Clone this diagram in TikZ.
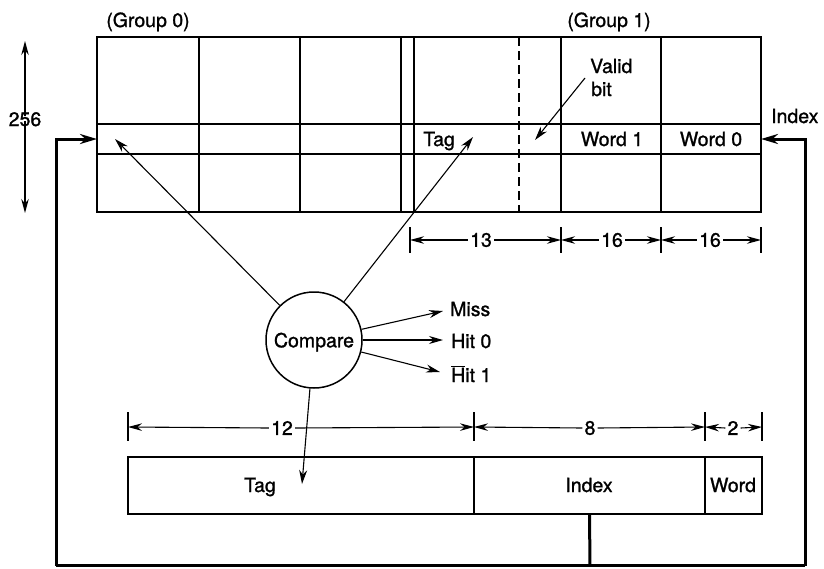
\documentclass[tikz,border=0pt]{standalone}
\usepackage{fontspec}
\setmainfont{TeX Gyre Heros}[FakeBold=1.2]
\newfontfamily\medfont{TeX Gyre Heros}[FakeBold=1.2]
\usetikzlibrary{arrows.meta}
\begin{document}
\begin{tikzpicture}[x=1pt,y=-1pt,
  gridline/.style={line width=1.7pt},
  dashline/.style={line width=1.1pt,dash pattern=on 9pt off 5pt},
  thinarrow/.style={line width=1.1pt,-{Stealth[length=14pt,width=8pt]}},
  dimarrow/.style={line width=1.1pt,-{Stealth[length=14pt,width=7.5pt]}},
  dimtick/.style={line width=1.1pt},
  loopline/.style={line width=3pt,line join=miter},
  looparrow/.style={loopline,-{Stealth[length=17pt,width=10pt]}},
  lbl/.style={font=\medfont\fontsize{19.5}{22}\selectfont,inner sep=0pt},
  dimlbl/.style={font=\medfont\fontsize{19.5}{22}\selectfont,inner sep=2pt},
  field/.style={draw,line width=1.7pt,minimum height=57pt,inner sep=0pt},
]
\useasboundingbox (0,0) rectangle (824,568);

% ---- top array (two groups) ----
\draw[gridline] (97,37) rectangle (761,212);
\draw[gridline] (97,124) -- (761,124);
\draw[gridline] (97,154) -- (761,154);
\foreach \xx in {199,300,401,414,561,661}
  \draw[gridline] (\xx,37) -- (\xx,212);
\draw[dashline] (519,37) -- (519,212);

\coordinate (rowL) at (97,139);
\coordinate (rowR) at (761,139);

\node[lbl,anchor=base] (g0) at (148,27) {(Group 0)};
\node[lbl,anchor=base] (g1) at (609,27) {(Group 1)};
\node[lbl,anchor=base west] (valid) at (590,73) {Valid};
\node[lbl,anchor=base west] (bit) at (591,96) {bit};
\node[lbl,anchor=base west] (tagtop) at (423,146) {Tag};
\node[lbl,anchor=base] (w1) at (612,146) {Word 1};
\node[lbl,anchor=base] (w0) at (711,146) {Word 0};
\node[lbl,anchor=base west] (idxr) at (771,123) {Index};

% valid bit arrow
\coordinate (vbs) at (585,78);
\coordinate (vbt) at (535,140);
\draw[thinarrow] (vbs) -- (vbt);

% ---- 256 dimension ----
\node[lbl,anchor=base] (n256) at (25,126) {256};
\coordinate (d256t) at (25,41);
\coordinate (d256b) at (25,213);
\draw[dimarrow] ([yshift=-4pt]n256.north) -- (d256t);
\draw[dimarrow] ([yshift=5pt]n256.south) -- (d256b);

% ---- top dimensions ----
\coordinate (ta) at (410,240);
\coordinate (tb) at (561,240);
\coordinate (tc) at (661,240);
\coordinate (td) at (761,240);
\foreach \p in {ta,tb,tc,td}
  \draw[dimtick] ([yshift=13pt]\p) -- ([yshift=-13pt]\p);
\node[dimlbl] (d13) at (481,240) {13};
\node[dimlbl] (d16a) at (612,240) {16};
\node[dimlbl] (d16b) at (710,240) {16};
\draw[dimarrow] (d13.west) -- (ta);
\draw[dimarrow] (d13.east) -- (tb);
\draw[dimarrow] (d16a.west) -- (tb);
\draw[dimarrow] (d16a.east) -- (tc);
\draw[dimarrow] (d16b.west) -- (tc);
\draw[dimarrow] (d16b.east) -- (td);

% ---- compare ----
\node[circle,draw,line width=1.5pt,minimum size=96pt,inner sep=0pt,
      font=\medfont\fontsize{19.5}{22}\selectfont,text depth=0pt] (cmp) at (314,340) {Compare};
\coordinate (tag0) at (115,139);
\coordinate (tag1) at (473,137);
\draw[thinarrow] (cmp) -- (tag0);
\draw[thinarrow] (cmp) -- (tag1);

\coordinate (missend) at (443,311);
\coordinate (hit0end) at (443,340);
\coordinate (hit1end) at (440,372);
\draw[thinarrow] (cmp) -- (missend);
\draw[thinarrow] (cmp) -- (hit0end);
\draw[thinarrow] (cmp) -- (hit1end);
\node[lbl,anchor=base west] (miss) at (450,316) {Miss};
\node[lbl,anchor=base west] (hit0) at (451,348) {Hit 0};
\node[lbl,anchor=base west] (hit1) at (451,382) {$\overline{\mbox{\medfont H}}$it 1};

\coordinate (tagaddr) at (302,484);
\draw[thinarrow] (cmp) -- (tagaddr);

% ---- bottom dimensions ----
\coordinate (ba) at (128,427);
\coordinate (bb) at (474,427);
\coordinate (bc) at (705,427);
\coordinate (bd) at (762,427);
\foreach \p in {ba,bb,bc,bd}
  \draw[dimtick] ([yshift=15pt]\p) -- ([yshift=-14pt]\p);
\node[dimlbl] (d12) at (282,428) {12};
\node[dimlbl] (d8) at (590,428) {8};
\node[dimlbl] (d2) at (733,428) {2};
\draw[dimarrow] (d12.west) -- (ba);
\draw[dimarrow] (d12.east) -- (bb);
\draw[dimarrow] (d8.west) -- (bb);
\draw[dimarrow] (d8.east) -- (bc);
\draw[dimarrow] (d2.west) -- (bc);
\draw[dimarrow] (d2.east) -- (bd);

% ---- address fields ----
\node[field,minimum width=346pt] (ftag) at (301,485.5) {};
\node[field,minimum width=231pt] (findex) at (589.5,485.5) {};
\node[field,minimum width=57pt] (fword) at (733.5,485.5) {};
\node[lbl,anchor=base] (ltag) at (260,492) {Tag};
\node[lbl,anchor=base] (lindex) at (589,492) {Index};
\node[lbl,anchor=base] (lword) at (733,492) {Word};

% ---- index loop ----
\coordinate (bl) at (56,565.5);
\coordinate (bm) at (590,565.5);
\coordinate (br) at (805,565.5);
\draw[loopline] (findex.south) -- (bm);
\draw[loopline] (bl) -- (br);
\draw[looparrow] (bl) -- (bl |- rowL) -- (rowL);
\draw[looparrow] (br) -- (br |- rowR) -- (rowR);
\end{tikzpicture}
\end{document}
